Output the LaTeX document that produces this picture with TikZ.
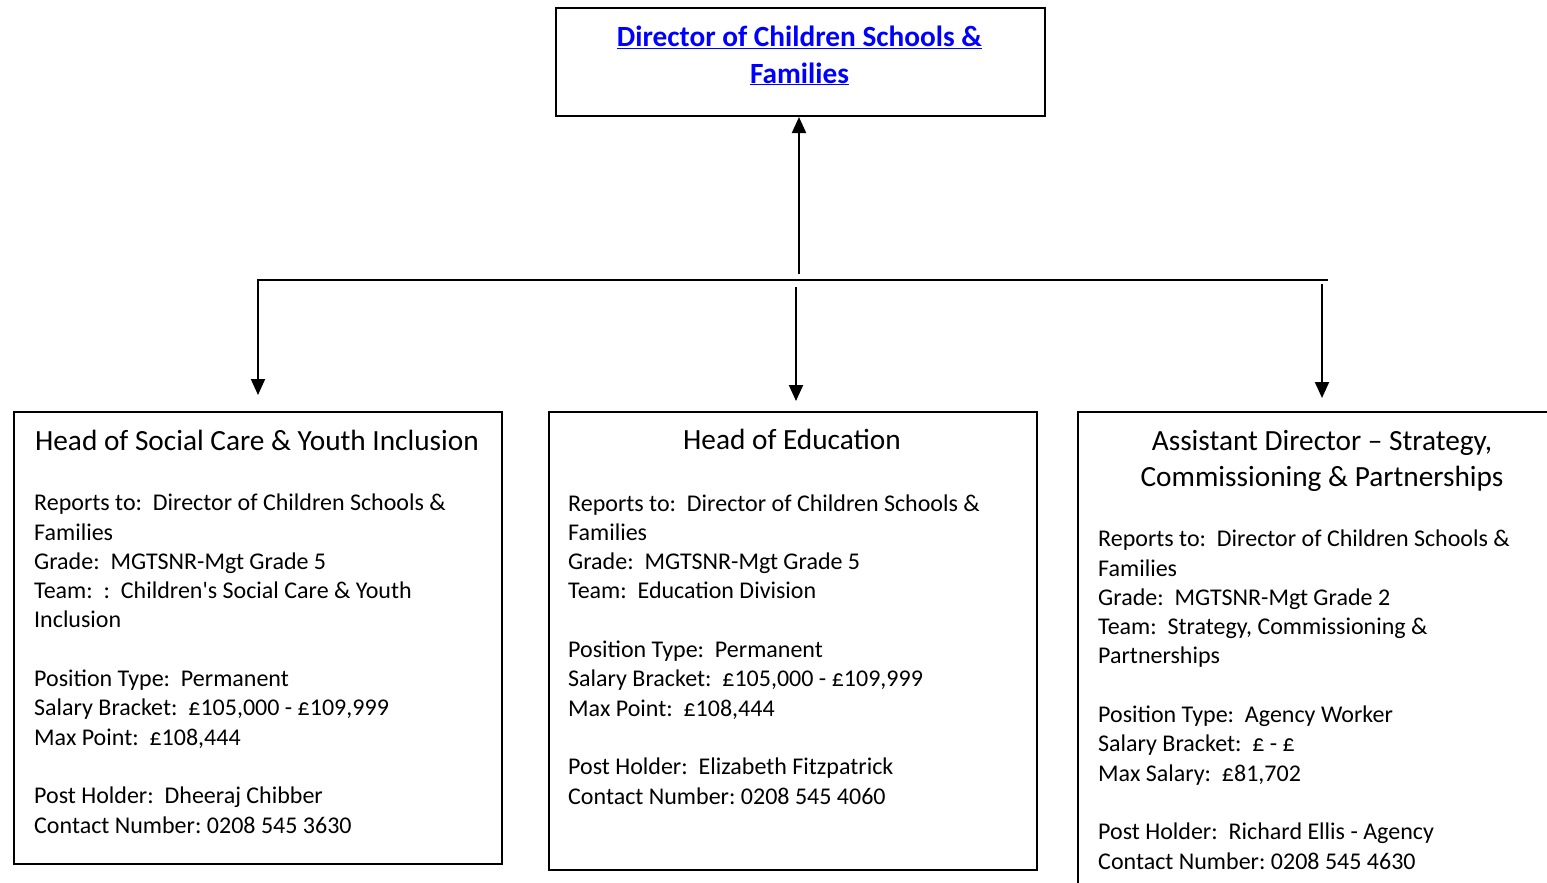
\documentclass[tikz,border=0pt]{standalone}
\usepackage{fontspec}
\setmainfont{Carlito}
\usepackage{tikz}
\usetikzlibrary{arrows.meta}
\definecolor{linkblue}{RGB}{0,0,255}
\frenchspacing

\begin{document}
\begin{tikzpicture}[x=1pt, y=-1pt,
box/.style={draw, rectangle, line width=2pt, anchor=north west, inner sep=0pt, minimum width=488pt},
conn/.style={line width=2pt, -{Triangle[length=16pt,width=14pt]}},
head/.style={font=\fontsize{29.3}{36}\selectfont, align=center, anchor=base, inner sep=0pt},
body/.style={font=\fontsize{24}{29.3}\selectfont, align=left, anchor=base west, inner sep=0pt}]
\useasboundingbox (0,0) rectangle (1547,883);
\clip (0,0) rectangle (1547,883);

\node[box, minimum width=489pt, minimum height=108pt] (director) at (555,7) {};
\node[head, font=\bfseries\fontsize{29.3}{36}\selectfont, text=linkblue] (directortitle) at (799.5,83)
    {\underline{Director of Children Schools \&}\\\underline{Families}};

\node[box, minimum height=452pt] (socialcare) at (13,411) {};
\node[head] (socialcaretitle) at (257,450) {Head of Social Care \& Youth Inclusion};
\node[body] (socialcarebody) at (34,833)
    {Reports to:~~Director of Children Schools \&\\
     Families\\
     Grade:~~MGTSNR-Mgt Grade 5\\
     Team:~~:~~Children\textquotesingle s Social Care \& Youth\\
     Inclusion\\[29.3pt]
     Position Type:~~Permanent\\
     Salary Bracket:~~£105,000 - £109,999\\
     Max Point:~~£108,444\\[29.3pt]
     Post Holder:~~Dheeraj Chibber\\
     Contact Number: 0208 545 3630};

\node[box, minimum height=458pt] (education) at (548,411) {};
\node[head] (educationtitle) at (792,449) {Head of Education};
\node[body] (educationbody) at (568,804)
    {Reports to:~~Director of Children Schools \&\\
     Families\\
     Grade:~~MGTSNR-Mgt Grade 5\\
     Team:~~Education Division\\[29.3pt]
     Position Type:~~Permanent\\
     Salary Bracket:~~£105,000 - £109,999\\
     Max Point:~~£108,444\\[29.3pt]
     Post Holder:~~Elizabeth Fitzpatrick\\
     Contact Number: 0208 545 4060};

\node[box, minimum width=489pt, minimum height=490pt] (strategy) at (1077,411) {};
\node[head] (strategytitle) at (1322,486) {Assistant Director – Strategy,\\Commissioning \& Partnerships};
\node[body] (strategybody) at (1098,869)
    {Reports to:~~Director of Children Schools \&\\
     Families\\
     Grade:~~MGTSNR-Mgt Grade 2\\
     Team:~~Strategy, Commissioning \&\\
     Partnerships\\[29.3pt]
     Position Type:~~Agency Worker\\
     Salary Bracket:~~£ - £\\
     Max Salary:~~£81,702\\[29.3pt]
     Post Holder:~~Richard Ellis - Agency\\
     Contact Number: 0208 545 4630};

\coordinate (stem) at (799,274);
\coordinate (busL) at (258,280);
\coordinate (busR) at (1328,280);
\coordinate (educationstem) at (796,287);
\coordinate (strategystem) at (1322,284);

\draw[conn] (stem) -- (stem |- director.south);
\draw[conn, shorten >=16pt] (busR) -- (busL) -- (busL |- socialcare.north);
\draw[conn, shorten >=10pt] (educationstem) -- (educationstem |- education.north);
\draw[conn, shorten >=13pt] (strategystem) -- (strategystem |- strategy.north);
\end{tikzpicture}
\end{document}
